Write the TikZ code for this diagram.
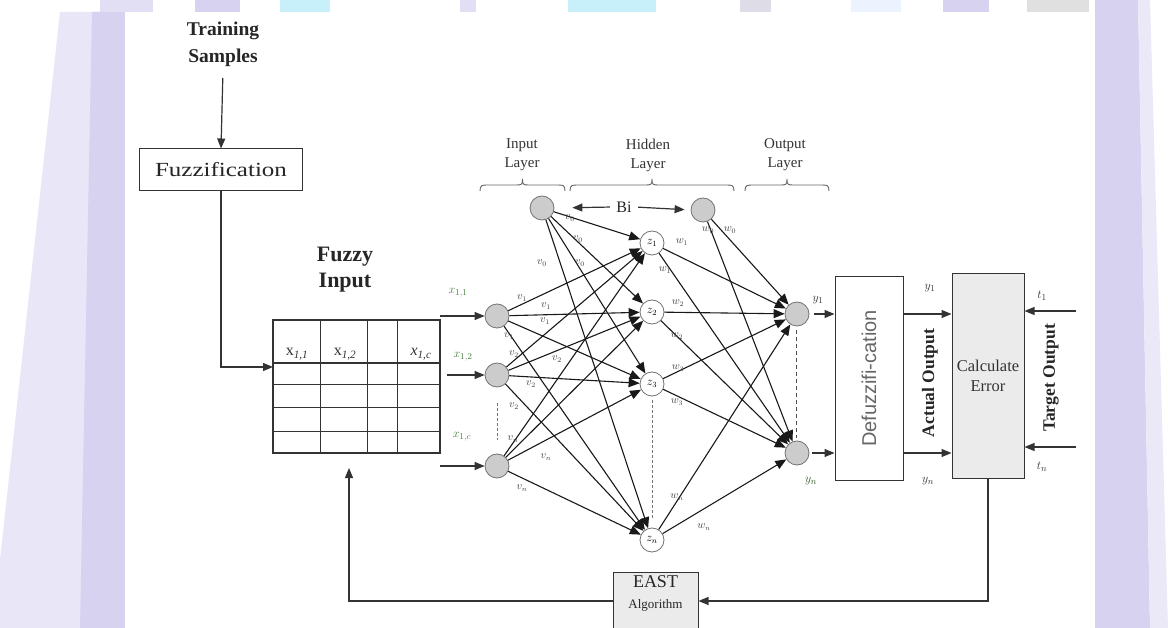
\documentclass[tikz,border=0pt]{standalone}
\usepackage{fontspec}
\setmainfont{Liberation Serif}
\newfontfamily\arialf{Liberation Sans}
\usetikzlibrary{arrows.meta}
\definecolor{lav}{RGB}{214,210,240}
\definecolor{cyn}{RGB}{200,240,250}
\definecolor{grn}{RGB}{70,130,60}
\begin{document}
\begin{tikzpicture}[x=1pt,y=-1pt,
  line/.style={draw=black!80, line width=1.2pt},
  tip/.style={-{Triangle[length=10pt,width=8pt]}},
  net/.style={draw=black!90, line width=1.1pt, -{Triangle[length=11pt,width=9pt]}},
  neu/.style={circle, draw=black!55, fill=black!20, minimum size=24pt, inner sep=0pt, line width=0.8pt},
  hid/.style={circle, draw=black!55, fill=white, minimum size=24pt, inner sep=0pt, line width=0.8pt, font=\fontsize{12}{12}\selectfont},
  wt/.style={font=\fontsize{10.5}{10.5}\selectfont, text=black!75, inner sep=0pt},
  lay/.style={font=\fontsize{15}{19}\selectfont, align=center, text=black!80},
  gl/.style={font=\fontsize{13}{13}\selectfont, text=grn, inner sep=0pt},
  ol/.style={font=\fontsize{13}{13}\selectfont, text=black!80, inner sep=0pt},
  brc/.style={draw=black!60, line width=0.9pt},
  box/.style={draw=black!80, line width=1pt}
]
\useasboundingbox (0,0) rectangle (1168,628);
% background
\fill[white] (0,0) rectangle (1168,628);
\fill[lav!55] (60,12) -- (125,12) -- (125,628) -- (0,628) -- (0,560) -- cycle;
\fill[lav] (92,12) -- (125,12) -- (125,628) -- (80,628) -- cycle;
\fill[lav] (1095,0) -- (1138,0) -- (1150,628) -- (1095,628) -- cycle;
\fill[lav!50] (1138,0) -- (1150,0) -- (1168,628) -- (1150,628) -- cycle;
\fill[lav!70] (100,0) rectangle (153,12);
\fill[lav] (195,0) rectangle (240,12);
\fill[cyn] (280,0) rectangle (330,12);
\fill[lav!70] (460,0) rectangle (476,12);
\fill[cyn] (568,0) rectangle (656,12);
\fill[lav!80!black!40] (740,0) rectangle (771,12);
\fill[cyn!80!blue!20] (851,0) rectangle (901,12);
\fill[lav] (943,0) rectangle (989,12);
\fill[black!12] (1027,0) rectangle (1089,12);
\fill[white] (125,12) rectangle (1095,628);

% top-left chain
\node[font=\bfseries\fontsize{19.5}{27}\selectfont, align=center, text=black!85] (train) at (223,44) {Training\\Samples};
\node[box, minimum width=163pt, minimum height=42pt, font=\fontsize{20}{20}\selectfont, text=black!85] (fuzz) at (221,170) {\scalebox{1.25}[1]{Fuzzification}};
\draw[line,tip,shorten <=8pt] (train.south) -- (fuzz.north);

% fuzzy input table
\node[font=\bfseries\fontsize{22}{26}\selectfont, align=center, text=black!85] (fin) at (345,270) {Fuzzy\\Input};
\node[box, line width=1.2pt, minimum width=167pt, minimum height=133pt] (tab) at (356.5,386.5) {};
\foreach \xx in {320,367,397} \draw[line, line width=1pt] (\xx,320) -- (\xx,453);
\draw[line, line width=1.5pt] (273,363) -- (440,363);
\foreach \yy in {385,408,431} \draw[line, line width=1pt] (273,\yy) -- (440,\yy);
\node[ol, font=\fontsize{16}{16}\selectfont] (c1) at (297,354) {x\textsubscript{\itshape 1,1}};
\node[ol, font=\fontsize{16}{16}\selectfont] (c2) at (345,354) {x\textsubscript{\itshape 1,2}};
\node[ol, font=\fontsize{16}{16}\selectfont] (c3) at (421,354) {\itshape x\textsubscript{1,c}};
\coordinate (tin) at (273,367);
\draw[line,tip] (fuzz.south) |- (tin);

% layer labels and braces
\node[lay] (ltin) at (522,155) {Input\\Layer};
\node[lay] (lthid) at (648,155) {Hidden\\Layer};
\node[lay] (ltout) at (785,155) {Output\\Layer};
\foreach \a/\b in {480/565,570/734,745/829}{
  \draw[brc] (\a,191) .. controls (\a,185) and (\a+2,185) .. (\a+8,185)
    -- ({(\a+\b)/2-7},185) .. controls ({(\a+\b)/2-1},185) and ({(\a+\b)/2},185) .. ({(\a+\b)/2},179)
    .. controls ({(\a+\b)/2},185) and ({(\a+\b)/2+1},185) .. ({(\a+\b)/2+7},185)
    -- (\b-8,185) .. controls (\b-2,185) and (\b,185) .. (\b,191);
}

% neurons
\node[neu] (bi) at (542,208) {};
\node[neu] (bh) at (703,210) {};
\node[neu] (x1) at (497,316) {};
\node[neu] (x2) at (497,375) {};
\node[neu] (x3) at (497,466) {};
\node[hid] (z1) at (652,243) {$z_1$};
\node[hid] (z2) at (652,312) {$z_2$};
\node[hid] (z3) at (652,384) {$z_3$};
\node[hid] (zn) at (652,540) {$z_n$};
\node[neu] (y1) at (797,314) {};
\node[neu] (yn) at (797,453) {};

\node[font=\fontsize{16}{16}\selectfont, text=black!85] (bil) at (624,207) {Bi};
\draw[line,tip,shorten <=3pt,shorten >=18pt] (bil.west) -- (bi.east);
\draw[line,tip,shorten <=3pt,shorten >=6pt] (bil.east) -- (bh.west);

\foreach \s in {bi,x1,x2,x3}{\foreach \t in {z1,z2,z3,zn}{\draw[net] (\s) -- (\t);}}
\foreach \s in {bh,z1,z2,z3,zn}{\foreach \t in {y1,yn}{\draw[net] (\s) -- (\t);}}

\draw[black!55, line width=1pt, dash pattern=on 3pt off 2pt] (497,403) -- (497,440);
\draw[black!55, line width=1pt, dash pattern=on 3pt off 2pt] (652,400) -- (652,518);
\draw[black!70, line width=1pt, dash pattern=on 4pt off 3pt] (796,330) -- (796,438);

% weight labels
\foreach \p/\t [count=\i] in {{570,218}/{$v_0$},{578,239}/{$v_0$},{542,263}/{$v_0$},{580,263}/{$v_0$},
  {522,298}/{$v_1$},{546,306}/{$v_1$},{545,321}/{$v_1$},{509,336}/{$v_1$},
  {514,354}/{$v_2$},{557,359}/{$v_2$},{531,384}/{$v_2$},{514,406}/{$v_2$},
  {513,439}/{$v_n$},{546,457}/{$v_n$},{522,488}/{$v_n$},
  {682,242}/{$w_1$},{708,230}/{$w_0$},{730,230}/{$w_0$},{665,270}/{$w_1$},
  {678,303}/{$w_2$},{677,336}/{$w_2$},{678,368}/{$w_3$},{677,402}/{$w_3$},
  {677,497}/{$w_n$},{704,527}/{$w_n$}}
  {\node[wt] (wl\i) at (\p) {\t};}

% inputs
\node[gl] (gx1) at (458,293) {$x_{1,1}$};
\node[gl] (gx2) at (463,357) {$x_{1,2}$};
\node[gl] (gx3) at (462,437) {$x_{1,c}$};
\coordinate (i1) at (440,316);
\coordinate (i2) at (447,375);
\coordinate (i3) at (440,466);
\draw[line,tip] (i1) -- (x1);
\draw[line,tip] (i2) -- (x2);
\draw[line,tip] (i3) -- (x3);

% defuzzification
\node[box, minimum width=68pt, minimum height=203pt] (defuzz) at (869,378.5) {};
\node[rotate=90, font=\arialf\fontsize{20}{20}\selectfont, text=black!60] (dtxt) at (defuzz.center) {Defuzzifi-cation};
\draw[line,tip,shorten <=5pt] (y1) -- (y1 -| defuzz.west);
\draw[line,tip,shorten <=3pt] (yn) -- (yn -| defuzz.west);
\node[ol] (ly1) at (818,300) {$y_1$};
\node[ol, text=grn!70!black] (lyn) at (811,481) {$y_n$};

% calculate error
\node[box, fill=black!8, minimum width=72pt, minimum height=204pt, align=center, font=\fontsize{16.5}{20}\selectfont, text=black!80] (calc) at (988,376) {Calculate\\Error};
\draw[line,tip] (defuzz.east |- y1) -- (calc.west |- y1);
\draw[line,tip] (defuzz.east |- yn) -- (calc.west |- yn);
\node[ol] (ly1b) at (930,288) {$y_1$};
\node[ol] (lynb) at (928,481) {$y_n$};
\node[rotate=90, font=\bfseries\fontsize{17.5}{18}\selectfont, text=black!85] (act) at (930,383) {Actual Output};
\node[rotate=90, font=\bfseries\fontsize{17.5}{18}\selectfont, text=black!85] (tgt) at (1051,378) {Target Output};
\coordinate (ts1) at (1076,311);
\coordinate (tsn) at (1076,447);
\draw[line,tip] (ts1) -- (ts1 -| calc.east);
\draw[line,tip] (tsn) -- (tsn -| calc.east);
\node[ol] (lt1) at (1042,296) {$t_1$};
\node[ol] (ltn) at (1042,467) {$t_n$};

% EAST feedback
\node[box, fill=black!8, minimum width=85pt, minimum height=62pt] (east) at (655.5,603) {};
\node[text=black!85, font=\fontsize{18}{18}\selectfont, inner sep=0pt] (etxt1) at (655.5,582) {EAST};
\node[text=black!85, font=\fontsize{13}{13}\selectfont, inner sep=0pt] (etxt2) at (655.5,605) {Algorithm};
\draw[line,tip] (calc.south) |- (east.east |- 0,601);
\coordinate (fb) at (349,468);
\draw[line,tip] (east.west |- 0,601) -| (fb);
\end{tikzpicture}
\end{document}
